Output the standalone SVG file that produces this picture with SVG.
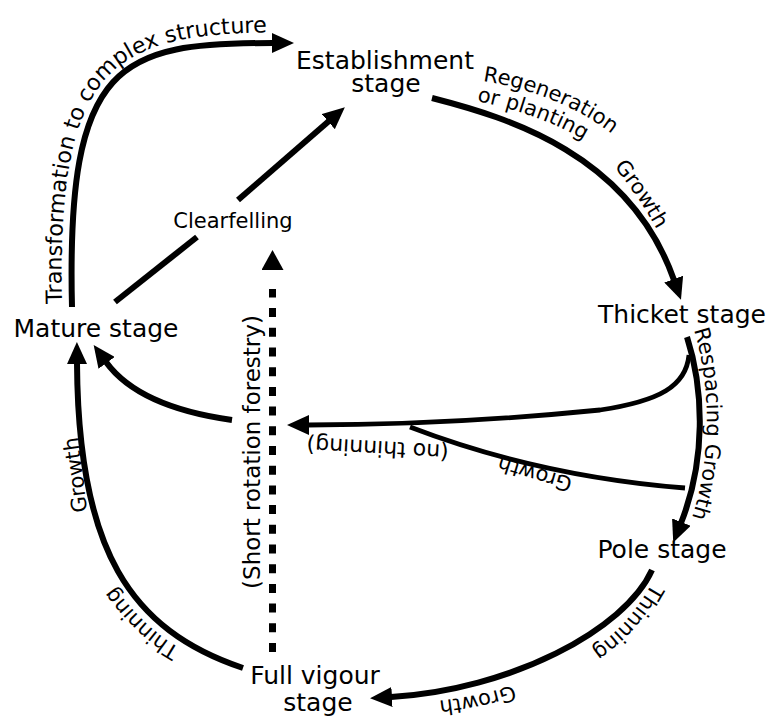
<svg xmlns="http://www.w3.org/2000/svg" width="771" height="717" viewBox="0 0 771 717">
<style>
.node{font-family:"DejaVu Sans",Verdana,sans-serif;font-size:25px;fill:#000;text-anchor:middle}
.lbl{font-family:"DejaVu Sans",Verdana,sans-serif;font-size:21px;fill:#000}
.ln{fill:none;stroke:#000;stroke-width:6}
.br{fill:none;stroke:#000;stroke-width:4.8}
.dash{fill:none;stroke:#000;stroke-width:7;stroke-dasharray:9 10.7}
</style>
<defs>
<marker id="ah" viewBox="0 0 22 20" refX="1" refY="10" markerWidth="22" markerHeight="20" markerUnits="userSpaceOnUse" orient="auto"><path d="M0,0 L22,10 L0,20 z" fill="#000"/></marker>
<marker id="ahd" viewBox="0 0 22 22" refX="-19" refY="11" markerWidth="22" markerHeight="22" markerUnits="userSpaceOnUse" orient="auto"><path d="M0,0 L20,11 L0,22 z" fill="#000"/></marker>
<path id="p-transform" d="M62,307 C56,52 118,32 300,32"/>
<path id="p-regen" d="M483,81 C530,88 592,110 632,152"/>
<path id="p-plant" d="M477,101 C515,109 562,123 602,152"/>
<path id="p-growth1" d="M614,167 C632,188 650,215 668,250"/>
<path id="p-respace" d="M694,330 C711,385 713,460 688,530"/>
<path id="p-nothin" d="M449,445 L290,436"/>
<path id="p-growth2" d="M573,478 C545,470 510,460 470,446"/>
<path id="p-thin1" d="M652,583 C630,622 605,645 565,666"/>
<path id="p-growth3" d="M513,685 C490,693 465,698 420,703"/>
<path id="p-thin2" d="M180,648 C155,634 128,610 100,565"/>
<path id="p-growth4" d="M87,512 C84,480 80,455 75,415"/>
</defs>
<rect width="771" height="717" fill="#fff"/>
<g id="connectors">
<path class="ln" d="M72,307 C66,60 120,43 273,43" marker-end="url(#ah)"/>
<path class="ln" d="M432,98 C510,118 630,155 674,280" marker-end="url(#ah)"/>
<path class="ln" d="M687,337 C704,390 706,460 681,523" marker-end="url(#ah)"/>
<path class="br" d="M689,355 C686,386 660,401 600,410 C500,420 400,425 308,425" marker-end="url(#ah)"/>
<path class="br" d="M410,427 C470,450 560,478 685,488"/>
<path class="ln" d="M232,420 C175,412 130,395 106,362" marker-end="url(#ah)"/>
<path class="ln" d="M243,668 C130,630 78,550 77,363" marker-end="url(#ah)"/>
<path class="ln" d="M115,302 L197,237"/>
<path class="ln" d="M238,200 L329,121" marker-end="url(#ah)"/>
<path class="dash" d="M272.5,652 L272.5,289" marker-end="url(#ahd)"/>
<path class="ln" d="M652,570 C625,630 510,690 391,697" marker-end="url(#ah)"/>
<text class="lbl" style="font-size:22.3px"><textPath href="#p-transform" startOffset="3">Transformation to complex structure</textPath></text>
<text class="lbl"><textPath href="#p-regen">Regeneration</textPath></text>
<text class="lbl"><textPath href="#p-plant">or planting</textPath></text>
<text class="lbl"><textPath href="#p-growth1">Growth</textPath></text>
<text class="lbl"><textPath href="#p-respace">Respacing Growth</textPath></text>
<text class="lbl" style="font-size:22px"><textPath href="#p-nothin">(no thinning)</textPath></text>
<text class="lbl"><textPath href="#p-growth2">Growth</textPath></text>
<text class="lbl"><textPath href="#p-thin1">Thinning</textPath></text>
<text class="lbl"><textPath href="#p-growth3">Growth</textPath></text>
<text class="lbl"><textPath href="#p-thin2">Thinning</textPath></text>
<text class="lbl"><textPath href="#p-growth4">Growth</textPath></text>
<text class="lbl" x="233" y="228" text-anchor="middle">Clearfelling</text>
<text class="lbl" style="font-size:23px" text-anchor="middle" transform="translate(260,452) rotate(-90)">(Short rotation forestry)</text>
</g>
<g id="n-establishment"><text class="node" x="385" y="69">Establishment</text><text class="node" x="386" y="92">stage</text></g>
<g id="n-thicket"><text class="node" x="682" y="323">Thicket stage</text></g>
<g id="n-pole"><text class="node" x="662" y="558">Pole stage</text></g>
<g id="n-fullvigour"><text class="node" x="315" y="684">Full vigour</text><text class="node" x="318" y="711">stage</text></g>
<g id="n-mature"><text class="node" x="96" y="337">Mature stage</text></g>
</svg>
